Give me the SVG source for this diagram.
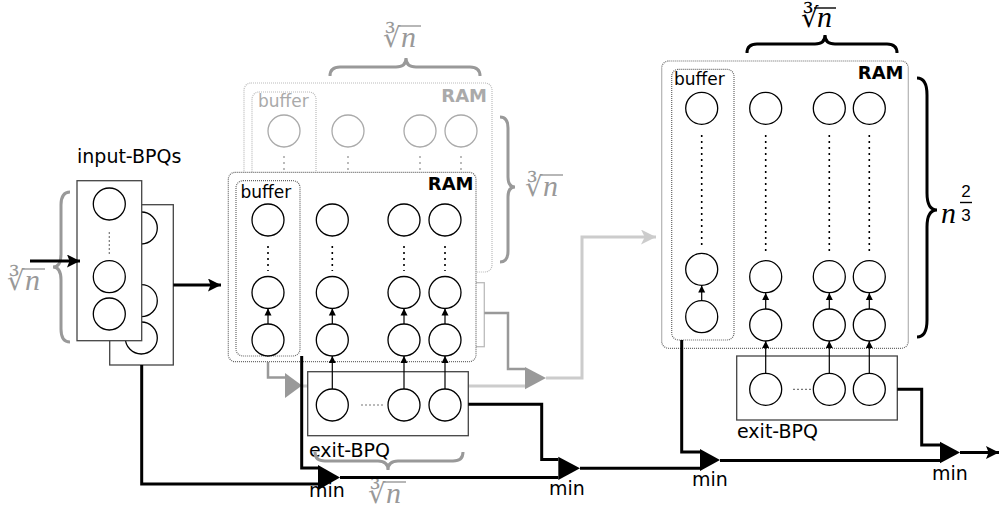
<svg xmlns="http://www.w3.org/2000/svg" width="1000" height="517" viewBox="0 0 1000 517">
<style>
.bg{fill:#fff}
.c{fill:#fff;stroke:#000;stroke-width:1.3}
.cg{fill:#fff;stroke:#aaa;stroke-width:1.3}
.ram{fill:#fff;stroke:#666;stroke-width:1.2;stroke-dasharray:1 1}
.ramg{fill:#fff;stroke:#bbb;stroke-width:1.2;stroke-dasharray:1 1}
.box{fill:#fff;stroke:#444;stroke-width:1.3}
.boxg{fill:#fff;stroke:#bbb;stroke-width:1.3}
.dots{stroke:#000;stroke-width:1.6;stroke-dasharray:2 4;fill:none}
.dotsg{stroke:#aaa;stroke-width:1.6;stroke-dasharray:2 4;fill:none}
.hd{stroke:#777;stroke-width:1.2;stroke-dasharray:2 2;fill:none}
.sa{stroke:#000;stroke-width:1.2;fill:none;marker-end:url(#sa)}
.wire{fill:none;stroke:#000;stroke-width:3}
.wg{fill:none;stroke:#999;stroke-width:2.5}
.wl{fill:none;stroke:#ccc;stroke-width:3}
.brace{fill:none;stroke:#999;stroke-width:3}
.braceb{fill:none;stroke:#000;stroke-width:3}
.lbl{font-family:"DejaVu Sans",sans-serif;font-size:19px;fill:#000}
.buf{font-family:"DejaVu Sans",sans-serif;font-size:17px}
.ramt{font-family:"DejaVu Sans",sans-serif;font-size:18px;font-weight:bold}
.rad{font-family:"DejaVu Serif",serif;font-size:27px}
.n{font-family:"Liberation Serif",serif;font-style:italic;font-size:30px}
.num{font-family:"Liberation Sans",sans-serif;font-size:17px}
</style>
<defs>
<marker id="sa" viewBox="0 0 10 10" refX="10" refY="5" markerWidth="7" markerHeight="8" markerUnits="userSpaceOnUse" orient="auto"><path d="M0,0 L10,5 L0,10 z" fill="#000"/></marker>
<marker id="ba" viewBox="0 0 10 10" refX="10" refY="5" markerWidth="17" markerHeight="13" markerUnits="userSpaceOnUse" orient="auto"><path d="M0,0 L10,5 L0,10 L2,5 z" fill="#000"/></marker>
<marker id="la" viewBox="0 0 10 10" refX="10" refY="5" markerWidth="20" markerHeight="15" markerUnits="userSpaceOnUse" orient="auto"><path d="M0,0 L10,5 L0,10 L2.5,5 z" fill="#ccc"/></marker>
</defs>
<rect class="bg" x="0" y="0" width="1000" height="517"/>

<!-- back (gray) layer -->
<g id="ram-back">
<rect class="boxg" x="323.7" y="282.7" width="160.6" height="64"/>
<rect class="ramg" x="244" y="83" width="248" height="189" rx="7"/>
<rect class="ramg" x="252" y="92" width="64" height="175" rx="7"/>
<text class="buf" x="258" y="107" fill="#aaa">buffer</text>
<text class="ramt" x="487" y="102" text-anchor="end" fill="#aaa">RAM</text>
<circle class="cg" cx="284" cy="131" r="16"/>
<circle class="cg" cx="348" cy="131" r="16"/>
<circle class="cg" cx="420" cy="131" r="16"/>
<circle class="cg" cx="461" cy="131" r="16"/>
<line class="dotsg" x1="284" y1="156" x2="284" y2="185"/>
<line class="dotsg" x1="348" y1="156" x2="348" y2="185"/>
<line class="dotsg" x1="420" y1="156" x2="420" y2="185"/>
<line class="dotsg" x1="461" y1="156" x2="461" y2="185"/>
</g>

<g id="brace-top-mid">
<path class="brace" d="M330,76 Q330,67 340,67 L396,67 Q406,67 406,58 Q406,67 416,67 L470,67 Q480,67 480,76"/>
<g fill="#999"><text class="rad" x="383" y="47">∛</text><text class="n" x="401" y="47">n</text><line x1="398" y1="26" x2="421" y2="26" stroke="#999" stroke-width="1.4"/></g>
</g>
<g id="brace-right-mid">
<path class="brace" d="M500,117 Q508,117 508,128 L508,177 Q508,187 515,187 Q508,187 508,197 L508,251 Q508,262 500,262"/>
<g fill="#999"><text class="rad" x="525" y="196">∛</text><text class="n" x="543" y="196">n</text><line x1="540" y1="175" x2="563" y2="175" stroke="#999" stroke-width="1.4"/></g>
</g>

<!-- gray connectors -->
<g id="gray-connectors">
<polyline class="wg" points="484.3,313 508,313 508,369 525,369"/>
<polyline class="wl" points="302,386 525,386"/>
<polyline class="wg" points="268,362 268,377.5 285,377.5"/>
<polygon points="285,373 285,398 302,385.5" fill="#999"/>
<polygon points="525,367 525,389.3 546,378" fill="#999"/>
<polyline class="wl" points="546,378 582,378 582,237 656,237" marker-end="url(#la)"/>
</g>

<!-- input BPQs -->
<g id="input-bpqs">
<text class="lbl" x="77" y="163">input-BPQs</text>
<rect class="box" x="109.7" y="204.7" width="63.6" height="160.3"/>
<circle class="c" cx="141.3" cy="228" r="16"/>
<circle class="c" cx="141.3" cy="300.7" r="16"/>
<circle class="c" cx="141.3" cy="338" r="16"/>
<rect class="box" x="77" y="180.7" width="64.7" height="160"/>
<circle class="c" cx="109.3" cy="204" r="16"/>
<line class="hd" x1="109.3" y1="232" x2="109.3" y2="254"/>
<circle class="c" cx="109.3" cy="276.7" r="16"/>
<circle class="c" cx="109.3" cy="314" r="16"/>
</g>
<g id="brace-left">
<path class="brace" d="M70,192 Q61,192 61,205 L61,254 Q61,267 53,267 Q61,267 61,280 L61,329 Q61,342 70,342"/>
<g fill="#999"><text class="rad" x="7" y="290">∛</text><text class="n" x="25" y="290">n</text><line x1="22" y1="269" x2="45" y2="269" stroke="#999" stroke-width="1.4"/></g>
</g>

<!-- front RAM -->
<g id="ram-front">
<rect class="ram" x="228.3" y="172.3" width="247.7" height="189.4" rx="7"/>
<rect class="ram" x="236" y="180.7" width="64" height="175.3" rx="7"/>
<text class="buf" x="240.5" y="198">buffer</text>
<text class="ramt" x="473.5" y="190" text-anchor="end">RAM</text>
<circle class="c" cx="268" cy="220" r="16"/>
<circle class="c" cx="332.3" cy="220" r="16"/>
<circle class="c" cx="404" cy="220" r="16"/>
<circle class="c" cx="445" cy="220" r="16"/>
<line class="dots" x1="268" y1="246" x2="268" y2="271"/>
<line class="dots" x1="332.3" y1="246" x2="332.3" y2="271"/>
<line class="dots" x1="404" y1="246" x2="404" y2="271"/>
<line class="dots" x1="445" y1="246" x2="445" y2="271"/>
<circle class="c" cx="268" cy="292.5" r="16"/>
<circle class="c" cx="332.3" cy="292.5" r="16"/>
<circle class="c" cx="404" cy="292.5" r="16"/>
<circle class="c" cx="445" cy="292.5" r="16"/>
<circle class="c" cx="268" cy="340" r="16"/>
<circle class="c" cx="332.3" cy="340" r="16"/>
<circle class="c" cx="404" cy="340" r="16"/>
<circle class="c" cx="445" cy="340" r="16"/>
<line class="sa" x1="268" y1="324" x2="268" y2="308.5"/>
<line class="sa" x1="332.3" y1="324" x2="332.3" y2="308.5"/>
<line class="sa" x1="404" y1="324" x2="404" y2="308.5"/>
<line class="sa" x1="445" y1="324" x2="445" y2="308.5"/>
</g>

<g id="exit-bpq-1">
<rect class="box" x="307.7" y="371.7" width="160.6" height="64"/>
<circle class="c" cx="332.3" cy="405" r="16"/>
<circle class="c" cx="404" cy="405" r="16"/>
<circle class="c" cx="445" cy="405" r="16"/>
<line class="hd" x1="361" y1="405" x2="385" y2="405"/>
<line class="sa" x1="332.3" y1="389" x2="332.3" y2="356"/>
<line class="sa" x1="404" y1="389" x2="404" y2="356"/>
<line class="sa" x1="445" y1="389" x2="445" y2="356"/>
<text class="lbl" x="309" y="457">exit-BPQ</text>
</g>
<g id="brace-bottom">
<path class="brace" d="M315,452 Q315,461 325,461 L378,461 Q388,461 388,470 Q388,461 398,461 L453,461 Q463,461 463,452"/>
<g fill="#999"><text class="rad" x="368" y="503">∛</text><text class="n" x="386" y="503">n</text><line x1="383" y1="482" x2="406" y2="482" stroke="#999" stroke-width="1.4"/></g>
</g>

<!-- right RAM -->
<g id="ram-right">
<rect class="ram" x="661.7" y="61" width="246.6" height="287.3" rx="7"/>
<rect class="ram" x="671.7" y="69.3" width="62.3" height="270.7" rx="7"/>
<text class="buf" x="674" y="85">buffer</text>
<text class="ramt" x="903.5" y="78.5" text-anchor="end">RAM</text>
<circle class="c" cx="701.7" cy="108.3" r="16"/>
<circle class="c" cx="765.7" cy="108.3" r="16"/>
<circle class="c" cx="829.3" cy="108.3" r="16"/>
<circle class="c" cx="869.3" cy="108.3" r="16"/>
<line class="dots" x1="701.7" y1="135" x2="701.7" y2="247"/>
<line class="dots" x1="765.7" y1="135" x2="765.7" y2="253"/>
<line class="dots" x1="829.3" y1="135" x2="829.3" y2="253"/>
<line class="dots" x1="869.3" y1="135" x2="869.3" y2="253"/>
<circle class="c" cx="701.7" cy="269.3" r="16"/>
<circle class="c" cx="701.7" cy="316.7" r="16"/>
<circle class="c" cx="765.7" cy="276.7" r="16"/>
<circle class="c" cx="829.3" cy="276.7" r="16"/>
<circle class="c" cx="869.3" cy="276.7" r="16"/>
<circle class="c" cx="765.7" cy="325" r="16"/>
<circle class="c" cx="829.3" cy="325" r="16"/>
<circle class="c" cx="869.3" cy="325" r="16"/>
<line class="sa" x1="701.7" y1="300.7" x2="701.7" y2="285.5"/>
<line class="sa" x1="765.7" y1="309" x2="765.7" y2="293"/>
<line class="sa" x1="829.3" y1="309" x2="829.3" y2="293"/>
<line class="sa" x1="869.3" y1="309" x2="869.3" y2="293"/>
</g>
<g id="exit-bpq-2">
<rect class="box" x="736.7" y="356" width="160.6" height="64"/>
<circle class="c" cx="765.7" cy="389.3" r="16"/>
<circle class="c" cx="829.3" cy="389.3" r="16"/>
<circle class="c" cx="869.3" cy="389.3" r="16"/>
<line class="hd" x1="793" y1="389.3" x2="813" y2="389.3"/>
<line class="sa" x1="765.7" y1="373.3" x2="765.7" y2="341"/>
<line class="sa" x1="829.3" y1="373.3" x2="829.3" y2="341"/>
<line class="sa" x1="869.3" y1="373.3" x2="869.3" y2="341"/>
<text class="lbl" x="737" y="438">exit-BPQ</text>
</g>
<g id="brace-top-right">
<path class="braceb" d="M747,53 Q747,44 757,44 L815,44 Q825,44 825,35 Q825,44 835,44 L887,44 Q897,44 897,53"/>
<g fill="#000"><text class="rad" x="801" y="27" font-size="24">∛</text><text class="n" x="817" y="27" font-size="28">n</text><line x1="814" y1="8" x2="836" y2="8" stroke="#000" stroke-width="1.4"/></g>
</g>
<g id="brace-right">
<path class="braceb" d="M917,78 Q927,78 927,95 L927,193 Q927,210 937,210 Q927,210 927,227 L927,320 Q927,337 917,337"/>
<text class="n" x="941" y="223" font-size="34">n</text>
<text class="num" x="966" y="197" text-anchor="middle">2</text>
<line x1="960" y1="202.5" x2="972" y2="202.5" stroke="#000" stroke-width="1.4"/>
<text class="num" x="966" y="221" text-anchor="middle">3</text>
</g>

<!-- black connectors -->
<g id="connectors">
<line class="wire" x1="30" y1="261" x2="80" y2="261" marker-end="url(#ba)"/>
<line class="wire" x1="173.3" y1="285" x2="221" y2="285" marker-end="url(#ba)"/>
<polyline class="wire" points="141.7,365 141.7,484 318,484"/>
<polyline class="wire" points="301.7,356 301.7,468 318,468"/>
<polygon points="318,465 318,490 340,477.5" fill="#000"/>
<polyline class="wire" points="340,477.5 558.3,477.5"/>
<polyline class="wire" points="468.3,404.3 541.7,404.3 541.7,459.5 558.3,459.5"/>
<polygon points="558.3,456.7 558.3,480 580,468.3" fill="#000"/>
<polyline class="wire" points="580,468.3 700,468.3"/>
<polyline class="wire" points="681.7,340 681.7,452 700,452"/>
<polygon points="700,449 700,471 720,460" fill="#000"/>
<polyline class="wire" points="720,460.5 940,460.5"/>
<polyline class="wire" points="897.3,389.3 921.7,389.3 921.7,445 940,445"/>
<polygon points="940,441.7 940,463.3 960,452.5" fill="#000"/>
<line class="wire" x1="960" y1="452.5" x2="999" y2="452.5" marker-end="url(#ba)"/>
<text class="lbl" x="327" y="497" text-anchor="middle">min</text>
<text class="lbl" x="567" y="495" text-anchor="middle">min</text>
<text class="lbl" x="710" y="486" text-anchor="middle">min</text>
<text class="lbl" x="950" y="480" text-anchor="middle">min</text>
</g>
</svg>
